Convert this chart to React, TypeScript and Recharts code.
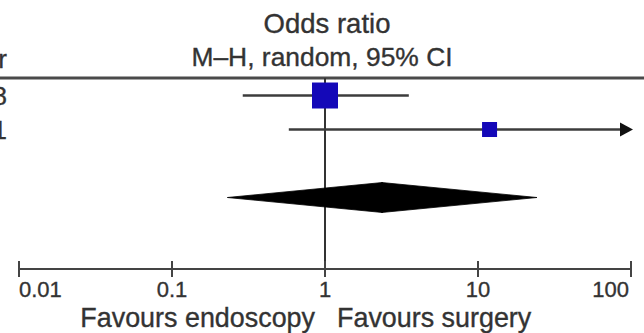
import React from 'react';
import { ComposedChart, XAxis, YAxis, Scatter, ReferenceLine, Customized } from 'recharts';

// ---- data ----
const studyLabels = ['2008', '2011'];
const studyRows = [1, 2];
const oddsRatios = [1.0, 11.9];
const ciLower = [0.29, 0.58];
const ciUpper = [3.53, 300];
const weights = [75, 25];

const pooledRow = 4;
const pooledOR = 2.36;
const pooledLower = 0.23;
const pooledUpper = 24.3;

const xTicks = [0.01, 0.1, 1, 10, 100];
const xTickLabels = ['0.01', '0.1', '1', '10', '100'];
const X_MIN = 0.01;
const X_MAX = 100;

const titleLines = ['Odds ratio', 'M\u2013H, random, 95% CI'];
const headerLeft = 'Year';
const favoursLeft = 'Favours endoscopy';
const favoursRight = 'Favours surgery';

// ---- style ----
const FONT = '"Liberation Sans", Arial, sans-serif';
const TEXT = '#333';
const W = 644;
const H = 333;
const textStyle = { fontFamily: FONT, fill: TEXT, stroke: TEXT, strokeWidth: 0.35 } as const;

const studyData = studyLabels.map((s, i) => ({
  label: s,
  or: oddsRatios[i],
  row: studyRows[i],
  weight: weights[i],
}));

const SquareShape = (props: any) => {
  const { cx, cy, payload } = props;
  const s = Math.sqrt(payload.weight) * 3;
  return <rect x={cx - s / 2} y={cy - s / 2} width={s} height={s} fill="#1408b8" />;
};

const CiShape = (arrow: boolean) => (props: any) => {
  const { x1, y1, x2, y2 } = props;
  if (!arrow) {
    return <line x1={x1} y1={y1} x2={x2} y2={y2} stroke="#3c3c3c" strokeWidth={2.5} />;
  }
  return (
    <g>
      <line x1={x1} y1={y1} x2={x2 - 6} y2={y2} stroke="#3c3c3c" strokeWidth={2.5} />
      <polygon points={`${x2 + 2},${y2} ${x2 - 11},${y2 - 7} ${x2 - 11},${y2 + 7}`} fill="#111" />
    </g>
  );
};

const HALF_H = 15;
const LeftHalf = (props: any) => {
  const { x1, y1, x2, y2 } = props;
  return (
    <polygon
      points={`${x1},${y1} ${x2 + 0.5},${y2 - HALF_H} ${x2 + 0.5},${y2 + HALF_H}`}
      fill="#000"
      stroke="#000"
      strokeWidth={0.8}
      strokeLinejoin="round"
    />
  );
};
const RightHalf = (props: any) => {
  const { x1, y1, x2, y2 } = props;
  return (
    <polygon
      points={`${x1 - 0.5},${y1 - HALF_H} ${x2},${y2} ${x1 - 0.5},${y1 + HALF_H}`}
      fill="#000"
      stroke="#000"
      strokeWidth={0.8}
      strokeLinejoin="round"
    />
  );
};

const AxisTick = (props: any) => {
  const { x, y, payload } = props;
  const idx = xTicks.indexOf(payload.value);
  const last = xTicks.length - 1;
  const anchor = idx === 0 ? 'start' : idx === last ? 'end' : 'middle';
  const dx = idx === 0 ? 0 : idx === last ? -2 : 0;
  return (
    <g>
      <line x1={x} x2={x} y1={y - 8} y2={y + 8} stroke="#444" strokeWidth={2} />
      <text x={x + dx} y={y + 28} textAnchor={anchor} fontSize={22} {...textStyle}>
        {xTickLabels[idx]}
      </text>
    </g>
  );
};

const Overlay = () => (
  <g>
    <line x1={0} x2={W} y1={78} y2={78} stroke="#4a4a4a" strokeWidth={3} />
    <text x={327} y={33} textAnchor="middle" fontSize={27.5} {...textStyle}>
      {titleLines[0]}
    </text>
    <text x={322} y={66} textAnchor="middle" fontSize={26.4} {...textStyle}>
      {titleLines[1]}
    </text>
    <text x={7} y={68} textAnchor="end" fontSize={26} {...textStyle}>
      {headerLeft}
    </text>
    {studyLabels.map((s, i) => (
      <text key={s} x={7} y={105 + i * 34} textAnchor="end" fontSize={26} {...textStyle}>
        {s}
      </text>
    ))}
    <text x={315} y={327} textAnchor="end" fontSize={26.9} {...textStyle}>
      {favoursLeft}
    </text>
    <text x={337} y={327} textAnchor="start" fontSize={26.9} {...textStyle}>
      {favoursRight}
    </text>
  </g>
);

export default function App() {
  return (
    <div style={{ position: 'absolute', left: 0, top: 0, width: W, height: H, background: '#fff' }}>
      <ComposedChart width={W} height={H} margin={{ top: 78, right: 13, bottom: 0, left: 19 }} data={studyData}>
        <XAxis
          type="number"
          dataKey="or"
          scale="log"
          domain={[X_MIN, X_MAX]}
          ticks={xTicks}
          allowDataOverflow
          height={64}
          tickSize={0}
          tickMargin={0}
          tickLine={false}
          axisLine={{ stroke: '#444', strokeWidth: 2 }}
          tick={<AxisTick />}
          interval={0}
        />
        <YAxis type="number" dataKey="row" domain={[0.485, 6.103]} reversed hide width={0} allowDataOverflow />
        <ReferenceLine x={1} stroke="#333" strokeWidth={2} />
        {studyData.map((d, i) => (
          <ReferenceLine
            key={'ci' + i}
            segment={[
              { x: ciLower[i], y: d.row },
              { x: Math.min(ciUpper[i], X_MAX), y: d.row },
            ]}
            ifOverflow="visible"
            shape={CiShape(ciUpper[i] > X_MAX)}
          />
        ))}
        <Scatter data={studyData} dataKey="row" shape={SquareShape} isAnimationActive={false} />
        <ReferenceLine
          segment={[
            { x: pooledLower, y: pooledRow },
            { x: pooledOR, y: pooledRow },
          ]}
          ifOverflow="visible"
          shape={LeftHalf}
        />
        <ReferenceLine
          segment={[
            { x: pooledOR, y: pooledRow },
            { x: pooledUpper, y: pooledRow },
          ]}
          ifOverflow="visible"
          shape={RightHalf}
        />
        <Customized component={<Overlay />} />
      </ComposedChart>
    </div>
  );
}
